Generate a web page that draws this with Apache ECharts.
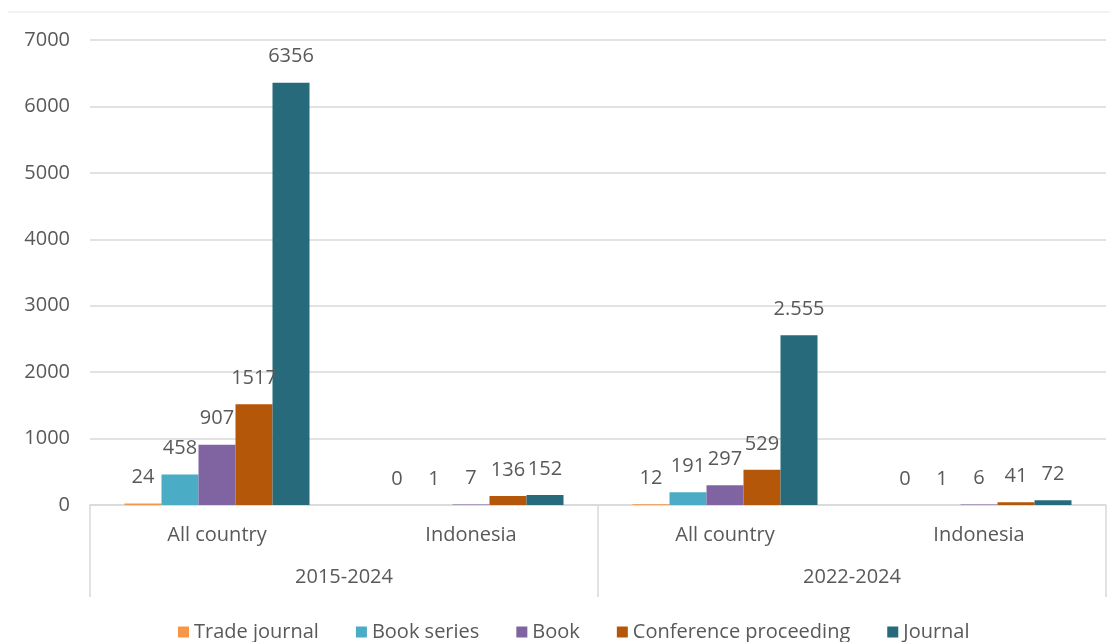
<!DOCTYPE html>
<html>
<head>
<meta charset="utf-8">
<title>Publications by source type</title>
<script src="https://cdn.jsdelivr.net/npm/echarts@6/dist/echarts.min.js"></script>
<style>
  html, body { margin: 0; padding: 0; background: #ffffff; }
  #chart { width: 1110px; height: 642px; }
</style>
</head>
<body>
<div id="chart"></div>
<script>
// Inner categories (countries) and their period groups
const countries = ['All country', 'Indonesia', 'All country', 'Indonesia'];
const periods = ['2015-2024', '2022-2024'];

// Values per source type, one entry per country/period slot
const tradeJournal = [24, 0, 12, 0];
const bookSeries = [458, 1, 191, 1];
const book = [907, 7, 297, 6];
const conferenceProceeding = [1517, 136, 529, 41];
const journal = [6356, 152, 2555, 72];
// Journal values as printed above the bars
const journalLabelText = ['6356', '152', '2.555', '72'];

const yTicks = { min: 0, max: 7000, interval: 1000 };

const textColor = '#595959';
const fontFamily = '"Open Sans", "Noto Sans", sans-serif';
const gridColor = '#d9d9d9';

const seriesDefs = [
  { name: 'Trade journal', data: tradeJournal, color: '#F79646' },
  { name: 'Book series', data: bookSeries, color: '#4BACC6' },
  { name: 'Book', data: book, color: '#8064A2' },
  { name: 'Conference proceeding', data: conferenceProceeding, color: '#B55708' },
  { name: 'Journal', data: journal, color: '#276A7C', labels: journalLabelText }
];

const chart = echarts.init(document.getElementById('chart'), null, { renderer: 'canvas' });

chart.setOption({
  animation: false,
  backgroundColor: '#ffffff',
  textStyle: { fontFamily: fontFamily },
  grid: { left: 90, right: 4, top: 40, bottom: 137, containLabel: false },
  legend: {
    data: seriesDefs.map(s => s.name),
    left: 173,
    top: 617,
    icon: 'rect',
    itemWidth: 11,
    itemHeight: 11,
    itemGap: 37,
    textStyle: { color: textColor, fontSize: 20, fontFamily: fontFamily }
  },
  xAxis: [
    {
      type: 'category',
      data: countries,
      position: 'bottom',
      axisLine: { show: true, lineStyle: { color: gridColor, width: 1.5 } },
      axisTick: { show: false },
      axisLabel: { color: textColor, fontSize: 20, margin: 20, fontFamily: fontFamily }
    },
    {
      type: 'category',
      data: periods,
      position: 'bottom',
      boundaryGap: true,
      axisLine: { show: false },
      axisTick: { show: true, length: 92, lineStyle: { color: gridColor, width: 1.5 } },
      axisLabel: { color: textColor, fontSize: 20, margin: 62, fontFamily: fontFamily }
    }
  ],
  yAxis: {
    type: 'value',
    min: yTicks.min,
    max: yTicks.max,
    interval: yTicks.interval,
    axisLine: { show: false },
    axisTick: { show: false },
    axisLabel: {
      color: textColor,
      fontSize: 20,
      margin: 20,
      fontFamily: fontFamily,
      formatter: v => String(v)
    },
    splitLine: { lineStyle: { color: gridColor, width: 1.5 } }
  },
  graphic: [
    {
      type: 'line',
      shape: { x1: 8, y1: 12, x2: 1110, y2: 12 },
      style: { stroke: '#e6e6e6', lineWidth: 1 }
    }
  ],
  series: seriesDefs.map(s => ({
    name: s.name,
    type: 'bar',
    xAxisIndex: 0,
    data: s.data,
    barWidth: 37,
    barGap: '0%',
    itemStyle: { color: s.color },
    label: {
      show: true,
      position: 'top',
      distance: 16,
      color: textColor,
      fontSize: 20,
      fontFamily: fontFamily,
      formatter: s.labels ? (p => s.labels[p.dataIndex]) : '{c}'
    }
  }))
});
</script>
</body>
</html>
